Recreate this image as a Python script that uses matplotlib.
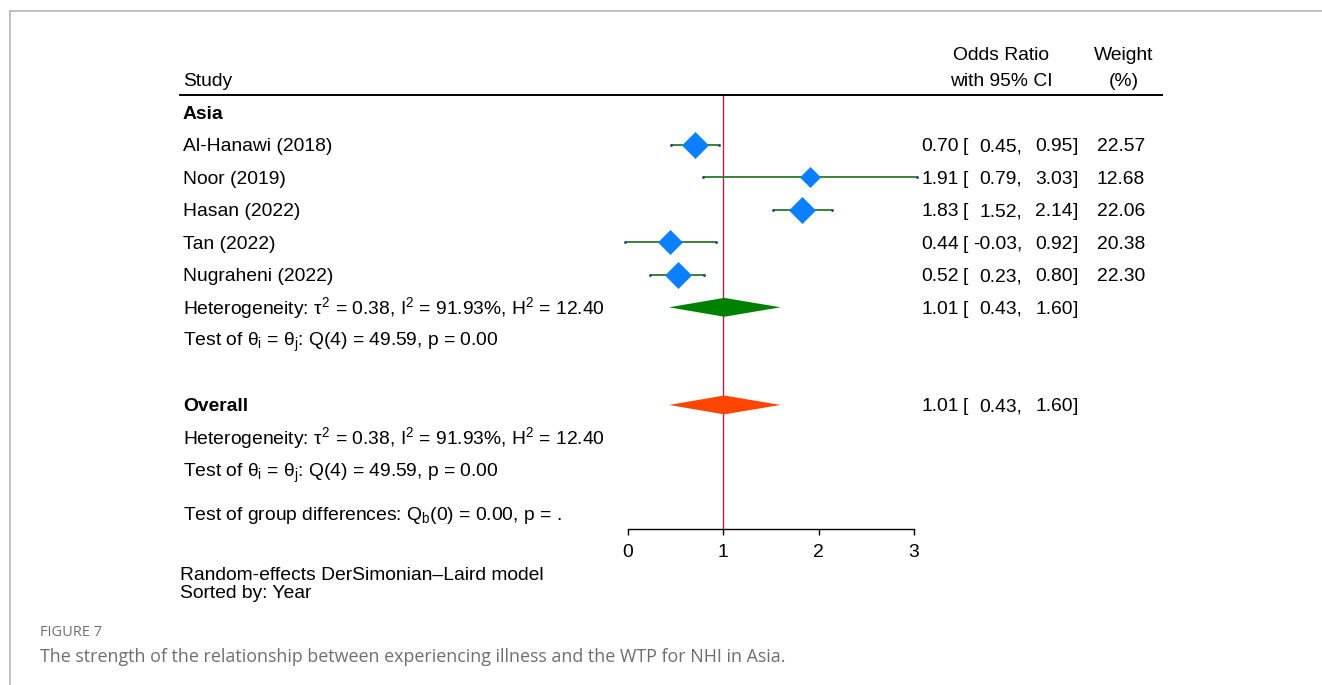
import matplotlib
matplotlib.use("Agg")
import numpy as np
import matplotlib.pyplot as plt
from matplotlib.lines import Line2D
from matplotlib.patches import Polygon
from matplotlib import transforms

plt.rcParams["font.family"] = ["Liberation Sans", "DejaVu Sans"]
plt.rcParams["mathtext.fontset"] = "custom"
plt.rcParams["mathtext.rm"] = "Liberation Sans"
plt.rcParams["mathtext.it"] = "Liberation Sans"
plt.rcParams["mathtext.bf"] = "Liberation Sans:bold"

# ---- study data ----
studies = ["Al-Hanawi (2018)", "Noor (2019)", "Hasan (2022)", "Tan (2022)", "Nugraheni (2022)"]
est = [0.70, 1.91, 1.83, 0.44, 0.52]
lower = [0.45, 0.79, 1.52, -0.03, 0.23]
upper = [0.95, 3.03, 2.14, 0.92, 0.80]
weight = [22.57, 12.68, 22.06, 20.38, 22.30]

# pooled estimates (subgroup and overall)
sub_est, sub_lo, sub_hi = 1.01, 0.43, 1.60
all_est, all_lo, all_hi = 1.01, 0.43, 1.60

x_ticks = [0, 1, 2, 3]

het_text = (r"Heterogeneity: $\tau^{2}$ = 0.38, "
            r"$\mathrm{I}^{2}$ = 91.93%, "
            r"$\mathrm{H}^{2}$ = 12.40")
test_text = r"Test of $\theta_{\mathrm{i}}$ = $\theta_{\mathrm{j}}$: Q(4) = 49.59, p = 0.00"
group_text = r"Test of group differences: $\mathrm{Q}_{\mathrm{b}}$(0) = 0.00, p = ."

FS = 13.9
W, H = 1322, 685
fig = plt.figure(figsize=(W / 100, H / 100), dpi=100)

# plot region: x from 0 to 3, y in row units
ax_left, ax_right, ax_top, ax_bot = 628, 914, 95, 529
ax = fig.add_axes([ax_left / W, 1 - ax_bot / H, (ax_right - ax_left) / W, (ax_bot - ax_top) / H])
row0_px, row_h = 112, 32.55
ax.set_xlim(0, 3)
ax.set_ylim((ax_bot - row0_px) / row_h, (ax_top - row0_px) / row_h)
for s in ["top", "left", "right"]:
    ax.spines[s].set_visible(False)
ax.spines["bottom"].set_linewidth(1.0)
ax.set_yticks([])
ax.set_xticks(x_ticks)
ax.set_xticklabels([str(t) for t in x_ticks], fontsize=FS)
ax.tick_params(axis="x", direction="out", length=4, width=1, pad=7)
ax.patch.set_alpha(0)

# no-effect line
ax.axvline(1, color="#b0244a", lw=1.0, zorder=1)

study_rows = np.arange(1, len(studies) + 1)
ci_color = "#2a7a2a"
for r, e, lo, hi, w in zip(study_rows, est, lower, upper, weight):
    ax.plot([lo, hi], [r, r], color=ci_color, lw=1.3, clip_on=False, zorder=2,
            solid_capstyle="butt")
    ax.plot([lo, hi], [r, r], ls="none", marker="o", ms=1.1, color="#2a4a8a",
            clip_on=False, zorder=2)
    ax.plot([e], [r], marker="D", ms=2.75 * np.sqrt(w), color="#0a80ff",
            mec="#0a80ff", mew=0.5, clip_on=False, zorder=3)


def pooled_diamond(e, lo, hi, row, color):
    hh = 0.29
    poly = Polygon([[lo, row], [e, row - hh], [hi, row], [e, row + hh]],
                   closed=True, facecolor=color, edgecolor="none", zorder=3,
                   clip_on=False)
    ax.add_patch(poly)


pooled_diamond(sub_est, sub_lo, sub_hi, 6, "#008000")
pooled_diamond(all_est, all_lo, all_hi, 9, "#ff4500")

# ---- text table ----
T = transforms.blended_transform_factory(fig.transFigure, ax.transData)
base = 0.2  # baseline offset (rows) below row centre


def txt(px, row, s, ha="left", **kw):
    ax.text(px / W, row + base, s, transform=T, ha=ha, va="baseline",
            fontsize=FS, color="black", clip_on=False, **kw)


txt(183, -1.01, "Study")
txt(1001, -1.81, "Odds Ratio", ha="center")
txt(1001, -1.01, "with 95% CI", ha="center")
txt(1124, -1.81, "Weight", ha="center")
txt(1124, -1.01, "(%)", ha="center")
txt(183, 0, "Asia", fontweight="bold")


def ci_cols(row, e, lo, hi):
    txt(959, row, f"{e:.2f}", ha="right")
    txt(963, row, "[")
    txt(1022, row, f"{lo:.2f},", ha="right")
    txt(1073, row, f"{hi:.2f}", ha="right")
    txt(1073, row, "]")


for r, name, e, lo, hi, w in zip(study_rows, studies, est, lower, upper, weight):
    txt(183, r, name)
    ci_cols(r, e, lo, hi)
    txt(1145, r, f"{w:.2f}", ha="right")

txt(183, 6, het_text)
ci_cols(6, sub_est, sub_lo, sub_hi)
txt(183, 7, test_text)
txt(183, 9, "Overall", fontweight="bold")
ci_cols(9, all_est, all_lo, all_hi)
txt(183, 10, het_text)
txt(183, 11, test_text)
txt(183, (513 - row0_px) / row_h, group_text)

# header rule
fig.add_artist(Line2D([180 / W, 1162 / W], [1 - 95 / H, 1 - 95 / H], color="black", lw=1.4))

# notes below the axis
fig.text(180 / W, 1 - 575 / H, "Random-effects DerSimonian\u2013Laird model", fontsize=FS,
         va="center", ha="left")
fig.text(180 / W, 1 - 593 / H, "Sorted by: Year", fontsize=FS, va="center", ha="left")

# caption and panel frame
fig.text(40 / W, 1 - 632 / H, "FIGURE 7", fontsize=10.5, color="#6f6f6f",
         family=["Open Sans", "DejaVu Sans"], va="center", ha="left")
fig.text(40 / W, 1 - 657 / H,
         "The strength of the relationship between experiencing illness and the WTP for NHI in Asia.",
         fontsize=12.9, color="#6e6e6e", family=["Open Sans", "DejaVu Sans"],
         va="center", ha="left")
fig.add_artist(Line2D([10 / W, 1.0], [1 - 11 / H, 1 - 11 / H], color="#b5b5b5", lw=1.2))
fig.add_artist(Line2D([10 / W, 10 / W], [0, 1 - 11 / H], color="#b5b5b5", lw=1.2))

fig.savefig("out.png", dpi=100)
